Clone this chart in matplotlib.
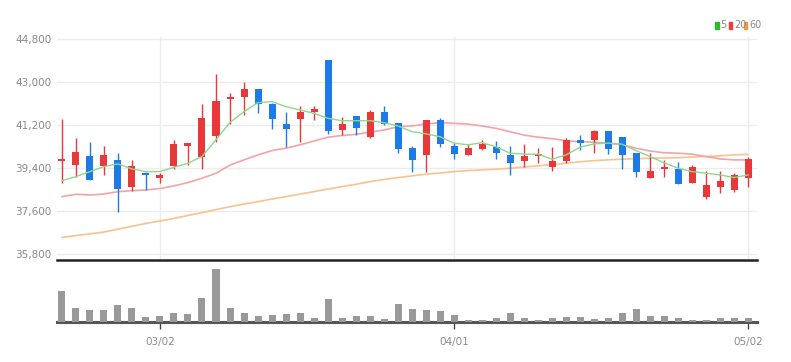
import numpy as np
from matplotlib import pyplot as plt
from matplotlib.patches import Rectangle

plt.rcParams['font.family'] = ['Liberation Sans Narrow', 'DejaVu Sans']

# daily candles, 50 sessions
opens = [39700, 39550, 39900, 39500, 39750, 38600, 39200, 39000, 39500, 40350,
         39850, 40750, 42300, 42400, 42700, 42100, 41250, 41450, 41750, 43950,
         41000, 41600, 40700, 41750, 41300, 40250, 39950, 41400, 40350, 39950,
         40200, 40300, 39950, 39700, 39900, 39450, 39700, 40600, 40600, 40950,
         40700, 40050, 39000, 39350, 39350, 38800, 38200, 38600, 38500, 39000]
highs = [41450, 40650, 40500, 40350, 40050, 39750, 39250, 39200, 40600, 40450,
         42100, 43350, 42550, 43000, 42700, 42150, 41750, 42000, 42000, 43950,
         41550, 41600, 41850, 42000, 41300, 40350, 41400, 41500, 40450, 40400,
         40600, 40550, 40350, 40400, 40250, 40300, 40650, 40800, 41000, 40950,
         40700, 40050, 40050, 39750, 39650, 39550, 39300, 39300, 39200, 39850]
lows = [38800, 39050, 38900, 39100, 37550, 38450, 38500, 38800, 39350, 39550,
        39350, 40500, 41250, 41650, 41700, 41050, 40300, 40500, 41400, 40850,
        40800, 40800, 40650, 41200, 40050, 39250, 39250, 40300, 39800, 39950,
        40150, 39800, 39100, 39450, 39600, 39300, 39600, 40150, 40050, 40000,
        39350, 39050, 39000, 39050, 38750, 38800, 38100, 38350, 38400, 38600]
closes = [39800, 40100, 38900, 39950, 38550, 39500, 39100, 39100, 40400, 40450,
          41500, 42200, 42400, 42700, 42100, 41450, 41050, 41750, 41900, 40950,
          41250, 41100, 41750, 41250, 40200, 39750, 41400, 40400, 40000, 40250,
          40400, 40050, 39600, 39900, 40000, 39700, 40600, 40450, 40950, 40200,
          39950, 39250, 39300, 39450, 38750, 39450, 38700, 38850, 39100, 39800]
volume = [307000, 143000, 117000, 123000, 173000, 143000, 50000, 57000, 93000, 77000,
          240000, 533000, 143000, 93000, 60000, 73000, 77000, 93000, 40000, 233000,
          37000, 60000, 60000, 27000, 183000, 133000, 117000, 107000, 73000, 23000,
          23000, 37000, 93000, 40000, 23000, 40000, 53000, 53000, 33000, 37000,
          93000, 133000, 57000, 57000, 40000, 23000, 23000, 37000, 37000, 40000]

# moving averages as drawn on the source chart
ma5 = [38880, 39050, 39260, 39470, 39580, 39370, 39260, 39260, 39440, 39610,
       39890, 40590, 41320, 41770, 42150, 42190, 41980, 41840, 41700, 41490,
       41390, 41390, 41390, 41310, 41170, 40930, 40840, 40720, 40450, 40380,
       40470, 40300, 40030, 39990, 39990, 39780, 39960, 40280, 40420, 40450,
       40410, 40140, 39890, 39630, 39400, 39260, 39190, 39120, 39010, 39120]
ma20 = [38210, 38310, 38280, 38320, 38420, 38460, 38490, 38550, 38660, 38800,
        38980, 39190, 39530, 39750, 39960, 40140, 40240, 40380, 40540, 40700,
        40770, 40820, 40910, 41000, 41140, 41170, 41250, 41310, 41280, 41250,
        41170, 41070, 40930, 40790, 40700, 40640, 40550, 40510, 40490, 40450,
        40380, 40240, 40120, 40050, 40030, 39990, 39890, 39790, 39750, 39750]
ma60 = [36500, 36580, 36650, 36730, 36850, 36970, 37090, 37190, 37300, 37420,
        37540, 37670, 37790, 37900, 38000, 38110, 38210, 38320, 38420, 38530,
        38630, 38730, 38840, 38930, 39010, 39080, 39150, 39200, 39260, 39300,
        39330, 39360, 39400, 39450, 39500, 39550, 39610, 39670, 39720, 39750,
        39780, 39800, 39820, 39830, 39840, 39870, 39890, 39920, 39960, 39980]

xtick_pos = [7, 28, 49]
xtick_labels = ['03/02', '04/01', '05/02']
price_ticks = [35800, 37600, 39400, 41200, 43000, 44800]

UP = '#e8383a'
DOWN = '#1c7be6'
GRID = '#ececec'
LABEL = '#8a8a8a'


def draw_candles(ax):
    x = np.arange(len(opens))
    o = np.array(opens)
    c = np.array(closes)
    colors = [UP if cc >= oo else DOWN for oo, cc in zip(o, c)]
    # wicks first, bodies on top
    ax.vlines(x, lows, highs, colors=colors, linewidth=1, zorder=3)
    bottom = np.minimum(o, c)
    height = np.maximum(np.abs(c - o), 90)
    ax.bar(x, height, bottom=bottom, width=0.5, color=colors, zorder=4)


fig = plt.figure(figsize=(7.91, 3.62), dpi=100)
ax = fig.add_axes([0.072, 0.282, 0.885, 0.616])
vax = fig.add_axes([0.072, 0.110, 0.885, 0.166])

xs = np.arange(len(opens))
ax.plot(xs, ma60, color='#f9c28e', linewidth=1.2, zorder=2)
ax.plot(xs, ma20, color='#f4a3a8', linewidth=1.2, zorder=2)
ax.plot(xs, ma5, color='#8ed88e', linewidth=1.0, zorder=5)
draw_candles(ax)

ax.set_xlim(-0.36, 49.64)
ax.set_ylim(35560, 44900)
ax.set_yticks(price_ticks)
ax.set_yticklabels(['{:,}'.format(t) for t in price_ticks])
ax.set_xticks(xtick_pos)
ax.set_xticklabels([])
ax.tick_params(axis='y', length=0, pad=4, labelsize=7.5, labelcolor=LABEL)
ax.tick_params(axis='x', length=0)
ax.grid(True, color=GRID, linewidth=1, zorder=0)
ax.set_axisbelow(True)
for s in ['top', 'right', 'left']:
    ax.spines[s].set_visible(False)
ax.spines['bottom'].set_color('#222222')
ax.spines['bottom'].set_linewidth(1.8)

# volume panel
vax.bar(xs, volume, width=0.5, color='#999999', zorder=3)
vax.set_xlim(-0.36, 49.64)
vax.set_ylim(0, 600000)
vax.set_yticks([])
vax.set_xticks(xtick_pos)
vax.set_xticklabels(xtick_labels)
vax.tick_params(axis='x', length=5, width=1, color='#444444', pad=6,
                labelsize=7.5, labelcolor=LABEL)
for s in ['top', 'right', 'left']:
    vax.spines[s].set_visible(False)
vax.spines['bottom'].set_color('#555555')
vax.spines['bottom'].set_linewidth(2.2)

# little legend top right
leg = [('5', '#2eb82e', 0.9045), ('20', '#ee3b3b', 0.9215), ('60', '#f59a3a', 0.9405)]
for txt, col, lx in leg:
    fig.patches.append(Rectangle((lx, 0.921), 0.004, 0.018, color=col,
                                 transform=fig.transFigure, figure=fig))
    fig.text(lx + 0.0065, 0.930, txt, fontsize=7, color='#8a8a8a', va='center')

plt.savefig('out.png', dpi=100, facecolor='white')
